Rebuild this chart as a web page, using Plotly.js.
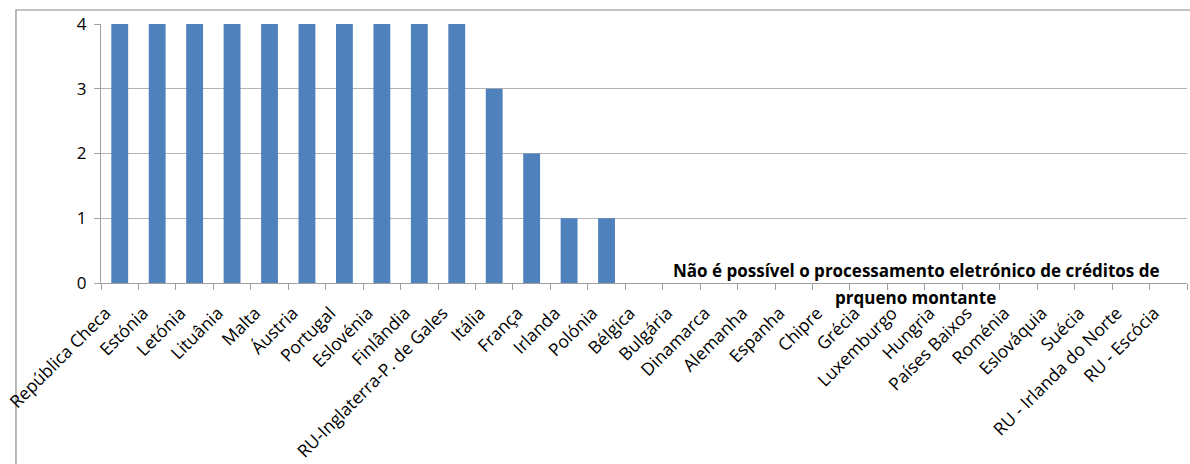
<!DOCTYPE html>
<html>
<head>
<meta charset="utf-8">
<script src="https://cdn.plot.ly/plotly-3.0.1.min.js"></script>
<style>body{margin:0;padding:0;background:#fff;}#chart{width:1190px;height:464px;}</style>
</head>
<body>
<div id="chart"></div>
<script>
const categories = ["República Checa","Estónia","Letónia","Lituânia","Malta","Áustria","Portugal","Eslovénia","Finlândia","RU-Inglaterra-P. de Gales","Itália","França","Irlanda","Polónia","Bélgica","Bulgária","Dinamarca","Alemanha","Espanha","Chipre","Grécia","Luxemburgo","Hungria","Países Baixos","Roménia","Eslováquia","Suécia","RU - Irlanda do Norte","RU - Escócia"];
const values = [4,4,4,4,4,4,4,4,4,4,3,2,1,1,0,0,0,0,0,0,0,0,0,0,0,0,0,0,0];
const yTicks = [0,1,2,3,4];
const noteLine1 = "Não é possível o processamento eletrónico de créditos de";
const noteLine2 = "prqueno montante";

const font = "'Open Sans', sans-serif";
const data = [{
  type: "bar",
  x: categories,
  y: values,
  marker: {color: "#4F81BD"},
  hoverinfo: "x+y"
}];
const layout = {
  width: 1190, height: 464,
  margin: {l: 101, r: 3, t: 24, b: 181},
  paper_bgcolor: "#fff", plot_bgcolor: "#fff",
  bargap: 0.55,
  showlegend: false,
  font: {family: font, color: "#000"},
  xaxis: {
    type: "category",
    tickangle: -45,
    tickfont: {size: 17.5, family: font, color: "#000"},
    showline: true, linecolor: "#a0a0a0", linewidth: 1,
    ticks: "outside", ticklen: 6, tickcolor: "#a0a0a0",
    tickson: "boundaries",
    ticklabelshift: -14,
    ticklabelstandoff: 12,
    showgrid: false, zeroline: false,
    fixedrange: true
  },
  yaxis: {
    range: [0, 4],
    tickvals: yTicks,
    tickfont: {size: 17, family: font, color: "#000"},
    showline: true, linecolor: "#a0a0a0", linewidth: 1,
    ticks: "outside", ticklen: 6, tickcolor: "#a0a0a0",
    showgrid: true, gridcolor: "#b3b3b3", gridwidth: 1,
    zeroline: false,
    ticklabelstandoff: 4,
    fixedrange: true
  },
  annotations: [
    {xref: "paper", yref: "paper", x: 0.751, y: 0.050, text: "<b>" + noteLine1 + "</b>", showarrow: false, font: {size: 17, family: font, color: "#000"}, xanchor: "center", yanchor: "middle"},
    {xref: "paper", yref: "paper", x: 0.750, y: -0.055, text: "<b>" + noteLine2 + "</b>", showarrow: false, font: {size: 17, family: font, color: "#000"}, xanchor: "center", yanchor: "middle"}
  ],
  shapes: [
    {type: "rect", xref: "paper", yref: "paper", x0: -0.0783, x1: 1.05, y0: -0.75, y1: 1.054, line: {color: "#8a8a8a", width: 1.2}, fillcolor: "rgba(0,0,0,0)", layer: "below"}
  ]
};
Plotly.newPlot("chart", data, layout, {displayModeBar: false, staticPlot: false});
</script>
</body>
</html>
